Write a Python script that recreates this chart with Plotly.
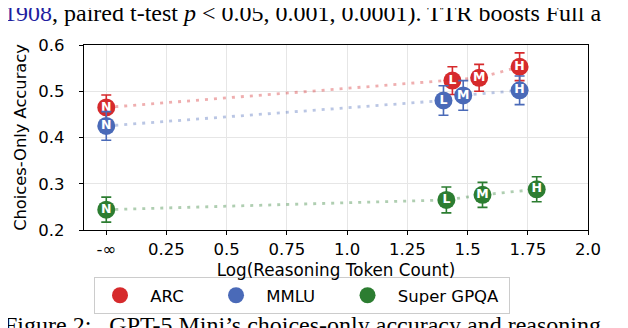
import plotly.graph_objects as go

# ---- data ----
levels = ["N", "L", "M", "H"]
arc_x = [0.0, 1.437, 1.548, 1.716]
arc_y = [0.465, 0.523, 0.529, 0.553]
arc_err = [0.027, 0.030, 0.029, 0.030]
mmlu_x = [0.0, 1.400, 1.482, 1.716]
mmlu_y = [0.425, 0.480, 0.491, 0.502]
mmlu_err = [0.031, 0.032, 0.032, 0.031]
gpqa_x = [0.0, 1.412, 1.562, 1.787]
gpqa_y = [0.244, 0.265, 0.276, 0.288]
gpqa_err = [0.027, 0.028, 0.027, 0.027]
xtick_vals = [0, 0.25, 0.5, 0.75, 1.0, 1.25, 1.5, 1.75, 2.0]
xtick_text = ["-∞", "0.25", "0.5", "0.75", "1.0", "1.25", "1.5", "1.75", "2.0"]
ytick_vals = [0.2, 0.3, 0.4, 0.5, 0.6]

NB = "\u00a0"
TH = "\u2009"
series = [
    ("ARC", NB + "ARC" + NB * 3 + TH * 2, arc_x, arc_y, arc_err, "#d62a2c", "rgba(214,42,44,0.38)"),
    ("MMLU", NB + "MMLU" + NB * 3 + TH * 2, mmlu_x, mmlu_y, mmlu_err, "#4a6ab8", "rgba(74,106,184,0.38)"),
    ("Super GPQA", NB + "Super GPQA" + NB, gpqa_x, gpqa_y, gpqa_err, "#2c7d31", "rgba(44,125,49,0.38)"),
]

fig = go.Figure()
for name, label, xs, ys, es, col, lcol in series:
    fig.add_trace(go.Scatter(
        x=xs, y=ys, mode="lines", showlegend=False, hoverinfo="skip",
        line=dict(color=lcol, width=2.8, dash="3px,6px"),
    ))
for name, label, xs, ys, es, col, lcol in series:
    fig.add_trace(go.Scatter(
        x=xs, y=ys, mode="markers+text", name=label, text=levels,
        textposition="middle center",
        textfont=dict(family="DejaVu Sans", size=12.5, color="white", weight="bold"),
        marker=dict(size=18, color=col, line=dict(width=0)),
        error_y=dict(type="data", array=es, visible=True, color=col, thickness=1.6, width=5),
    ))

font = "DejaVu Sans"
fig.update_layout(
    width=628, height=328,
    margin=dict(l=76, r=48, t=37, b=106),
    paper_bgcolor="white", plot_bgcolor="white",
    font=dict(family=font, size=16.5, color="black"),
    showlegend=True,
    legend=dict(
        orientation="h", x=(86 - 76) / 504, xanchor="left", y=(222 - 269) / 185, yanchor="top",
        bordercolor="#cccccc", borderwidth=1, bgcolor="white",
        font=dict(family=font, size=16.5), itemwidth=40,
    ),
    xaxis=dict(
        range=[-0.0925, 2.0], tickmode="array", tickvals=xtick_vals, ticktext=xtick_text,
        showgrid=True, gridcolor="#e6e6e6", gridwidth=1,
        showline=True, linecolor="black", linewidth=1.3, mirror=True,
        ticks="outside", ticklen=4, tickcolor="black", tickwidth=1,
        tickfont=dict(size=16.5), zeroline=False,
        title=dict(text="Log(Reasoning Token Count)", font=dict(size=16.8), standoff=6),
    ),
    yaxis=dict(
        range=[0.2, 0.6], tickmode="array", tickvals=ytick_vals, tickformat=".1f",
        showgrid=True, gridcolor="#e6e6e6", gridwidth=1,
        showline=True, linecolor="black", linewidth=1.3, mirror=True,
        ticks="outside", ticklen=4, tickcolor="black", tickwidth=1,
        tickfont=dict(size=16.5), zeroline=False, ticklabelstandoff=11,
        title=dict(text="Choices-Only Accuracy", font=dict(size=16.3), standoff=7),
    ),
)

serif = "Liberation Serif"
fig.add_annotation(
    xref="paper", yref="paper", x=(-6 - 76) / 504, y=(222 - 5.5) / 185,
    xanchor="left", yanchor="middle", showarrow=False,
    text="<span style='color:#1f1fa0'>1908</span>, paired t-test <i>p</i> &lt; 0.05, 0.001, 0.0001). TTR boosts Full a",
    font=dict(family=serif, size=24, color="black"),
)
fig.add_annotation(
    xref="paper", yref="paper", x=(-6 - 76) / 504, y=(222 - 317) / 185,
    xanchor="left", yanchor="middle", showarrow=False,
    text="Figure 2:" + NB * 3 + "GPT-5 Mini’s choices-only accuracy and reasoning",
    font=dict(family=serif, size=24, color="black"),
)

fig.write_html("out.html")
